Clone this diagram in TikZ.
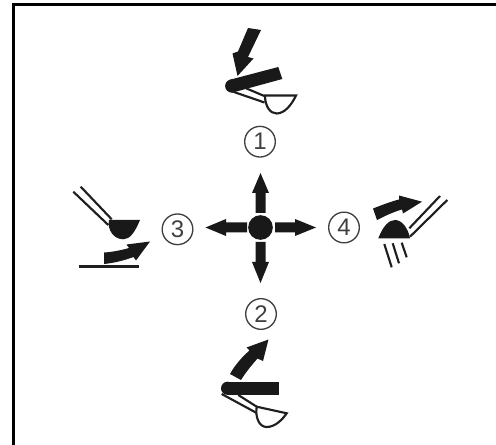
\documentclass[tikz,border=0pt]{standalone}
\usepackage{fontspec}
\setmainfont{Liberation Sans}
\tikzset{
  ink/.style={fill=black!90,draw=none},
  thin line/.style={draw=black!88,line width=1.6pt},
  num/.style={circle,draw=black!75,line width=1pt,minimum size=23pt,inner sep=0pt,font=\fontsize{18}{20}\selectfont,text=black!75},
  frame/.style={draw=black,line width=2.2pt}
}
\begin{document}
\begin{tikzpicture}[x=0.75pt,y=-0.75pt]
\useasboundingbox (0,0) rectangle (496,445);
\fill[white] (0,0) rectangle (496,445);
\coordinate (fa) at (13.5,445);
\coordinate (fb) at (13.5,4.6);
\coordinate (fc) at (496,4.6);
\draw[frame] (fa) -- (fb) -- (fc);
% centre cross
\node[circle,fill=black!90,minimum size=18.5pt,inner sep=0pt] (hub) at (260.5,227.5) {};
\fill[ink] (255.5,213) -- (255.5,193) -- (252,193) -- (260.5,173) -- (269,193) -- (265.5,193) -- (265.5,213) -- cycle;
\fill[ink] (255.5,242) -- (255.5,262) -- (252,262) -- (260.5,283) -- (269,262) -- (265.5,262) -- (265.5,242) -- cycle;
\fill[ink] (247,222.5) -- (226,222.5) -- (226,219) -- (205.5,227.5) -- (226,236) -- (226,232.5) -- (247,232.5) -- cycle;
\fill[ink] (275,222.5) -- (295,222.5) -- (295,219) -- (316,227.5) -- (295,236) -- (295,232.5) -- (275,232.5) -- cycle;
\node[num] (n1) at (260,141.7) {1};
\node[num] (n2) at (261,314) {2};
\node[num] (n3) at (177.5,229.3) {3};
\node[num] (n4) at (344,227.5) {4};
% icon 1
\fill[ink] (248,28) -- (261,30) -- (248,57) -- (253.5,58.5) -- (237.5,76) -- (232.5,53.5) -- (238,51.5) -- cycle;
\fill[ink] (278.3,67) -- (282.3,79) -- (233.5,92.3) -- (230,79.7) -- cycle;
\fill[ink] (231.7,86) circle[radius=6.6];
\draw[thin line] (231,91) -- (264.5,102.5);
\draw[thin line] (246.5,88.5) -- (265.5,96.5);
\fill[white,draw=black!88,line width=1.6pt] (265,95.5) -- (296,95.5) .. controls (291,106) and (284,113.5) .. (276.5,113.5) .. controls (270,113.5) and (265,106) .. (265,95.5) -- cycle;
% icon 2
\fill[ink] (230,374) .. controls (235,365) and (242,357) .. (249.5,350.5) -- (246.5,347.5) -- (268.5,339.5) -- (263,361) -- (257.5,358.5) .. controls (251,366) and (246,372) .. (241,380) -- cycle;
\fill[ink] (279,381.7) -- (279,394.9) -- (227.6,394.9) -- (227.6,381.7) -- cycle;
\fill[ink] (227.6,388.3) circle[radius=6.6];
\draw[thin line] (221.7,394) -- (256.7,413);
\draw[thin line] (238.3,395) -- (256.7,406.7);
\fill[white,draw=black!88,line width=1.6pt] (256.7,406.7) -- (286.7,413.3) .. controls (282,420) and (275,427) .. (266.7,427) .. controls (259,427) and (255,417) .. (256.7,406.7) -- cycle;
% icon 3
\draw[thin line] (73.3,191.7) -- (108.3,225);
\draw[thin line] (80.7,186.7) -- (111.7,219.3);
\fill[ink] (109,220) -- (140,220) .. controls (135,232) and (130,239.3) .. (123.3,239.3) .. controls (114,239.3) and (107,230) .. (109,220) -- cycle;
\fill[ink] (104,252.5) .. controls (113,252) and (122,250) .. (129,248) -- (126.5,244.5) -- (150,241.5) -- (136,260.5) -- (133.5,257) .. controls (124,260.5) and (114,263) .. (104,264) -- cycle;
\draw[draw=black!88,line width=2pt] (79,266.7) -- (139.3,266.7);
% icon 4
\fill[ink] (373,208.5) .. controls (382,205) and (391,201.5) .. (399,199.5) -- (399,195.5) -- (422,201.7) -- (403,213.5) -- (402,209.5) .. controls (393,212) and (385,216) .. (377,220) -- cycle;
\fill[ink] (378.3,238.3) .. controls (383,226) and (389,220) .. (395,220) .. controls (402,220) and (408,228) .. (410,238.3) -- cycle;
\draw[thin line] (409.3,228.3) -- (440,196);
\draw[thin line] (410,236.7) -- (447.3,200);
\draw[thin line] (384.3,244) -- (391.7,267.3);
\draw[thin line] (392.7,243.3) -- (399,263.3);
\draw[thin line] (401.7,242.7) -- (406.7,257.3);
\end{tikzpicture}
\end{document}
